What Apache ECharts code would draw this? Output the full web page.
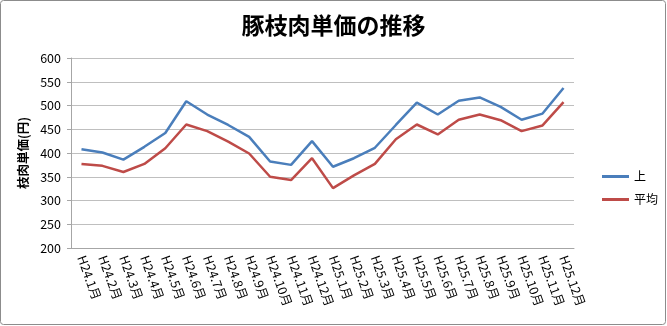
<!DOCTYPE html>
<html><head><meta charset="utf-8">
<script src="https://cdn.jsdelivr.net/npm/echarts@6/dist/echarts.min.js"></script>
<style>html,body{margin:0;padding:0;background:#fff}#c{width:667px;height:326px}</style>
</head><body><div id="c"></div>
<script>
const categories = ['H24.1月','H24.2月','H24.3月','H24.4月','H24.5月','H24.6月','H24.7月','H24.8月','H24.9月','H24.10月','H24.11月','H24.12月','H25.1月','H25.2月','H25.3月','H25.4月','H25.5月','H25.6月','H25.7月','H25.8月','H25.9月','H25.10月','H25.11月','H25.12月'];
const upper = [408,401,386,413,442,509,481,459,434,382,375,425,371,389,411,459,506,481,510,517,497,470,483,537];
const average = [377,373,360,377,410,460,446,424,399,350,343,389,326,353,377,429,460,439,470,481,469,446,458,507];
const seriesNames = ['上','平均'];
const font = '"Noto Sans CJK JP", sans-serif';
const chart = echarts.init(document.getElementById('c'));
chart.setOption({
  animation:false,
  textStyle:{fontFamily:font},
  title:{text:'豚枝肉単価の推移',left:'center',top:9,textStyle:{fontFamily:font,fontSize:23,fontWeight:'bold',color:'#000'}},
  graphic:[{type:'rect',shape:{x:0.5,y:0.5,width:665,height:324,r:3},style:{fill:null,stroke:'#8c8c8c',lineWidth:1},silent:true}],
  legend:{orient:'vertical',left:597,top:163,itemWidth:27,itemHeight:3,itemGap:6,icon:'rect',
    textStyle:{fontFamily:font,fontSize:12,color:'#000',lineHeight:17},data:seriesNames},
  grid:{left:71,right:93,top:58,bottom:78},
  xAxis:{type:'category',data:categories,boundaryGap:true,
    axisLine:{lineStyle:{color:'#a6a6a6'}},axisTick:{show:false},
    axisLabel:{rotate:-70,fontSize:12.5,color:'#000',fontFamily:font,interval:0,margin:8}},
  yAxis:{type:'value',min:200,max:600,interval:50,
    name:'枝肉単価(円)',nameLocation:'middle',nameGap:40,nameRotate:90,
    nameTextStyle:{fontFamily:font,fontSize:12.5,fontWeight:'bold',color:'#000'},
    axisLine:{show:true,lineStyle:{color:'#a6a6a6'}},axisTick:{show:true,length:4,lineStyle:{color:'#a6a6a6'}},
    axisLabel:{fontSize:12.5,color:'#000',fontFamily:font,margin:10},
    splitLine:{lineStyle:{color:'#bfbfbf',width:1}}},
  series:[
    {name:seriesNames[0],type:'line',data:upper,symbol:'none',lineStyle:{color:'#4a7ebb',width:2.5},itemStyle:{color:'#4a7ebb'}},
    {name:seriesNames[1],type:'line',data:average,symbol:'none',lineStyle:{color:'#be4b48',width:2.5},itemStyle:{color:'#be4b48'}}
  ]
});
</script></body></html>
